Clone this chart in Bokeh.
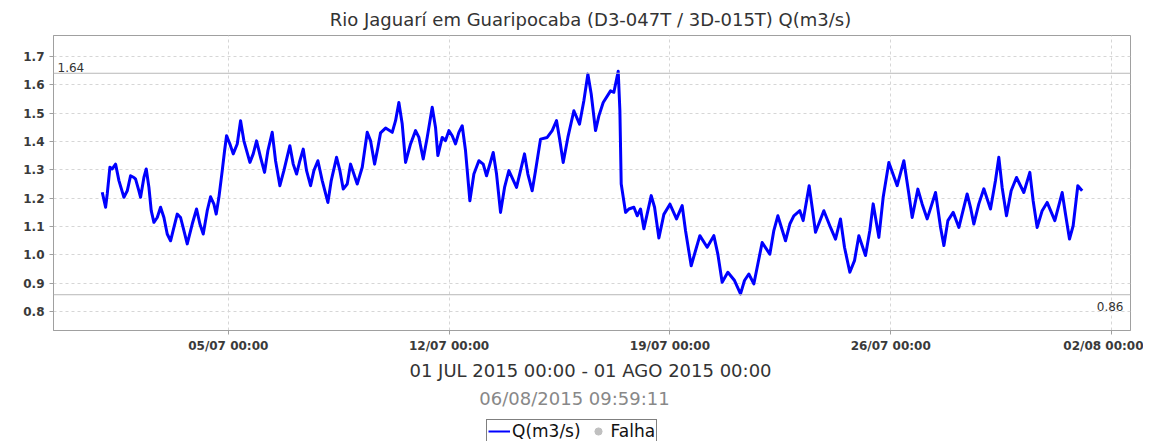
from datetime import datetime, timedelta
import pandas as pd
from bokeh.plotting import figure
from bokeh.layouts import column
from bokeh.models import (Range1d, FixedTicker, DatetimeTickFormatter, NumeralTickFormatter,
                          Span, Label, Legend, LegendItem, ColumnDataSource)
from bokeh.embed import file_html
from bokeh.resources import INLINE

# ---- data (days since 01/07/2015 00:00, discharge m3/s) ----
days = [0.005, 0.111, 0.164, 0.248, 0.322, 0.428, 0.534, 0.692, 0.798, 0.903, 1.009, 1.062, 1.167,
        1.220, 1.326, 1.400, 1.485, 1.558, 1.643, 1.749, 1.854, 1.960, 2.065, 2.171, 2.277, 2.382,
        2.488, 2.594, 2.699, 2.858, 2.995, 3.101, 3.207, 3.333, 3.439, 3.545, 3.618, 3.703, 3.809,
        3.883, 3.946, 4.052, 4.157, 4.284, 4.390, 4.495, 4.686, 4.791, 4.897, 5.024, 5.150, 5.256,
        5.393, 5.499, 5.636, 5.763, 5.953, 6.059, 6.165, 6.270, 6.376, 6.482, 6.609, 6.714, 6.841,
        6.978, 7.158, 7.264, 7.433, 7.539, 7.644, 7.771, 7.877, 7.982, 8.088, 8.247, 8.405, 8.511,
        8.638, 8.744, 8.827, 8.986, 9.197, 9.303, 9.408, 9.514, 9.620, 9.778, 9.937, 10.043,
        10.180, 10.306, 10.465, 10.570, 10.644, 10.782, 10.887, 10.993, 11.099, 11.204, 11.310,
        11.416, 11.521, 11.659, 11.786, 11.944, 12.082, 12.187, 12.399, 12.504, 12.631, 12.758,
        12.895, 13.138, 13.264, 13.391, 13.497, 13.634, 13.740, 13.898, 14.110, 14.268, 14.406,
        14.511, 14.617, 14.765, 14.955, 15.135, 15.272, 15.399, 15.505, 15.642, 15.748, 15.885,
        16.118, 16.223, 16.361, 16.414, 16.456, 16.594, 16.699, 16.858, 16.963, 17.069, 17.174,
        17.407, 17.513, 17.650, 17.808, 18.000, 18.209, 18.389, 18.494, 18.674, 18.811, 18.949,
        19.181, 19.392, 19.519, 19.656, 19.836, 20.048, 20.238, 20.364, 20.501, 20.660, 20.787,
        20.924, 21.167, 21.294, 21.421, 21.664, 21.801, 21.928, 22.118, 22.224, 22.414, 22.509,
        22.615, 22.879, 23.090, 23.249, 23.407, 23.534, 23.703, 23.851, 23.989, 24.200, 24.337,
        24.443, 24.623, 24.760, 24.940, 25.204, 25.416, 25.574, 25.680, 25.860, 25.997, 26.156,
        26.420, 26.579, 26.685, 26.811, 26.980, 27.160, 27.422, 27.528, 27.633, 27.792, 27.951,
        28.162, 28.320, 28.426, 28.531, 28.669, 28.817, 28.986, 29.218, 29.409, 29.514, 29.641,
        29.800, 29.958, 30.201, 30.434, 30.539, 30.666, 30.782, 30.930, 31.068]
q = [1.221, 1.168, 1.215, 1.309, 1.303, 1.320, 1.262, 1.203, 1.226, 1.279, 1.273, 1.267, 1.226,
     1.203, 1.273, 1.303, 1.238, 1.156, 1.115, 1.132, 1.168, 1.132, 1.074, 1.050, 1.097, 1.144,
     1.132, 1.086, 1.039, 1.109, 1.162, 1.109, 1.074, 1.156, 1.205, 1.179, 1.144, 1.203, 1.297,
     1.367, 1.420, 1.391, 1.356, 1.391, 1.473, 1.402, 1.326, 1.356, 1.402, 1.344, 1.291, 1.367,
     1.432, 1.332, 1.244, 1.297, 1.385, 1.320, 1.285, 1.332, 1.373, 1.297, 1.244, 1.297, 1.332,
     1.262, 1.185, 1.262, 1.344, 1.297, 1.232, 1.250, 1.320, 1.285, 1.250, 1.309, 1.432, 1.402,
     1.320, 1.379, 1.430, 1.447, 1.432, 1.473, 1.537, 1.461, 1.326, 1.391, 1.438, 1.414,
     1.338, 1.414, 1.520, 1.449, 1.350, 1.414, 1.403, 1.438, 1.420, 1.391, 1.432,
     1.455, 1.367, 1.191, 1.285, 1.332, 1.320, 1.279, 1.361, 1.285, 1.150, 1.238,
     1.297, 1.238, 1.297, 1.356, 1.285, 1.226, 1.297, 1.408, 1.414, 1.438, 1.473,
     1.403, 1.326, 1.414, 1.508, 1.461, 1.543, 1.637, 1.567, 1.438, 1.490, 1.537,
     1.578, 1.573, 1.647, 1.508, 1.250, 1.150, 1.162, 1.168, 1.138, 1.162, 1.092,
     1.209, 1.168, 1.060, 1.143, 1.179, 1.127, 1.174, 1.086, 0.962, 1.015, 1.068,
     1.027, 1.068, 1.003, 0.904, 0.939, 0.910, 0.863, 0.910, 0.933, 0.898, 0.968,
     1.044, 1.003, 1.086, 1.138, 1.050, 1.109, 1.138, 1.156, 1.121, 1.244, 1.168,
     1.080, 1.156, 1.097, 1.056, 1.127, 1.027, 0.939, 0.980, 1.068, 0.998, 1.086,
     1.180, 1.062, 1.203, 1.326, 1.244, 1.332, 1.215, 1.132, 1.232, 1.179, 1.127,
     1.220, 1.097, 1.033, 1.121, 1.150, 1.097, 1.215, 1.168, 1.109, 1.180, 1.233,
     1.162, 1.262, 1.344, 1.238, 1.138, 1.226, 1.273, 1.220, 1.291, 1.191, 1.097,
     1.156, 1.185, 1.121, 1.220, 1.144, 1.056, 1.103, 1.244, 1.226]
q_max = 1.64
q_min = 0.86
y_ticks = [0.8, 0.9, 1.0, 1.1, 1.2, 1.3, 1.4, 1.5, 1.6, 1.7]
x_tick_dates = ["2015-07-05", "2015-07-12", "2015-07-19", "2015-07-26", "2015-08-02"]
title_text = "Rio Jaguarí em Guaripocaba (D3-047T / 3D-015T) Q(m3/s)"
period_text = "01 JUL 2015 00:00 - 01 AGO 2015 00:00"
stamp_text = "06/08/2015 09:59:11"
legend_labels = ["Q(m3/s)", "Falha"]

base = datetime(2015, 7, 1)
times = [base + timedelta(days=d) for d in days]
src = ColumnDataSource(dict(t=times, q=q))

FONT = "DejaVu Sans"
BLUE = "#0000ff"
GREY_DOT = "#c0c0c0"
W = 1143
FL, FR = 53, 1130          # frame left / right in page pixels


def strip(height, y0, y1):
    """Text strip whose frame lines up with the chart frame; data units = page pixels."""
    f = figure(width=W, height=height, output_backend="svg", toolbar_location=None,
               x_range=Range1d(FL, FR), y_range=Range1d(y1, y0),
               x_axis_location=None, y_axis_location=None,
               min_border_left=FL, min_border_right=W - FR,
               min_border_top=0, min_border_bottom=0)
    f.grid.visible = False
    f.outline_line_color = None
    f.background_fill_color = "white"
    f.border_fill_color = "white"
    return f


# ---------- title strip (page y 0..35) ----------
top = strip(35, 0, 35)
top.add_layout(Label(x=590, y=19, text=title_text, text_font=FONT, text_font_size="18px",
                     text_color="#333333", text_align="center", text_baseline="middle"))

# ---------- main chart (page y 35..355) ----------
p = figure(width=W, height=320, output_backend="svg", toolbar_location=None,
           x_axis_type="datetime",
           x_range=Range1d(base - timedelta(days=1.54), base + timedelta(days=32.6)),
           y_range=Range1d(0.734, 1.773),
           min_border_left=FL, min_border_right=W - FR, min_border_top=0, min_border_bottom=24)
p.background_fill_color = "white"
p.border_fill_color = "white"
p.outline_line_color = "#a0a0a0"

p.line("t", "q", source=src, line_color=BLUE, line_width=3, line_join="round")

xt = [pd.Timestamp(d).value // 10**6 for d in x_tick_dates]
p.xaxis.ticker = FixedTicker(ticks=xt)
p.xaxis.formatter = DatetimeTickFormatter(days="%d/%m %H:%M", months="%d/%m %H:%M",
                                          hours="%d/%m %H:%M")
p.yaxis.ticker = FixedTicker(ticks=y_ticks)
p.yaxis.formatter = NumeralTickFormatter(format="0.0")
for ax in (p.xaxis[0], p.yaxis[0]):
    ax.axis_line_color = "#a0a0a0"
    ax.major_tick_line_color = "#a0a0a0"
    ax.major_tick_out = 4
    ax.major_tick_in = 0
    ax.minor_tick_line_color = None
    ax.major_label_text_font = FONT
    ax.major_label_text_font_size = "12px"
    ax.major_label_text_font_style = "bold"
    ax.major_label_text_color = "#3a3a3a"
p.xaxis.major_label_standoff = 4
p.yaxis.major_label_standoff = 5

p.grid.grid_line_color = "#d6d6d6"
p.grid.grid_line_dash = "3 3"

p.add_layout(Span(location=q_max, dimension="width", line_color="#b8b8b8", line_width=1))
p.add_layout(Span(location=q_min, dimension="width", line_color="#b8b8b8", line_width=1))
p.add_layout(Label(x=4, x_units="screen", y=q_max, y_offset=6, text=f"{q_max:.2f}",
                   text_font=FONT, text_font_size="12px", text_color="#333333",
                   text_baseline="alphabetic"))
p.add_layout(Label(x=1070, x_units="screen", y=q_min, y_offset=-7, text=f"{q_min:.2f}",
                   text_font=FONT, text_font_size="12px", text_color="#333333",
                   text_align="right", text_baseline="top"))

# ---------- bottom strip (page y 355..441) ----------
bot = strip(86, 355, 441)
bot.add_layout(Label(x=590, y=370, text=period_text, text_font=FONT, text_font_size="18px",
                     text_color="#333333", text_align="center", text_baseline="middle"))
bot.add_layout(Label(x=574, y=398, text=stamp_text, text_font=FONT, text_font_size="18px",
                     text_color="#888888", text_align="center", text_baseline="middle"))
# legend-only renderers (their points lie outside the visible range)
lg_line = bot.line(x=[-500, -400], y=[300, 300], line_color=BLUE, line_width=2)
lg_dot = bot.scatter(x=[-500], y=[300], marker="circle", size=9, fill_color=GREY_DOT,
                     line_color=GREY_DOT)
legend = Legend(items=[LegendItem(label=legend_labels[0], renderers=[lg_line]),
                       LegendItem(label=legend_labels[1], renderers=[lg_dot])],
                location=(486 - FL, -2), orientation="horizontal",
                border_line_color="black", border_line_width=1,
                background_fill_color="white", background_fill_alpha=1,
                label_text_font=FONT, label_text_font_size="17px", label_text_color="#111111",
                glyph_width=22, glyph_height=18, label_standoff=2, spacing=6,
                padding=1, margin=0)
bot.add_layout(legend, "center")

layout = column(top, p, bot, spacing=0)
open("out.html", "w").write(file_html(layout, INLINE))
